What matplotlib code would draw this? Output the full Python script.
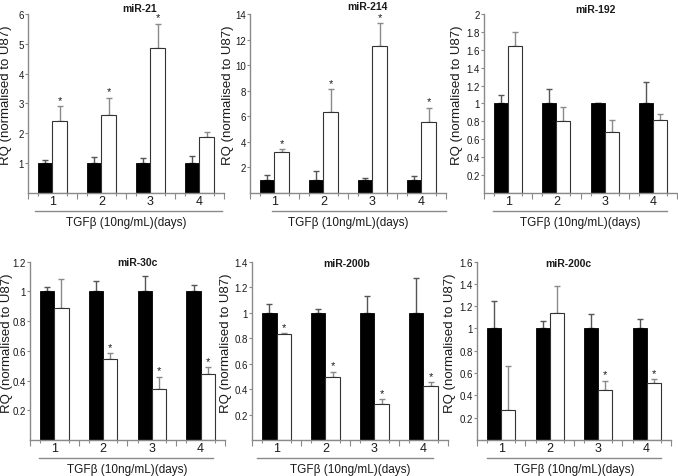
import matplotlib
matplotlib.use('Agg')
import matplotlib.pyplot as plt
import numpy as np

plt.rcParams['font.family'] = ['Liberation Sans', 'DejaVu Sans']

panel_titles = ['miR-21', 'miR-214', 'miR-192', 'miR-30c', 'miR-200b', 'miR-200c']
days = ['1', '2', '3', '4']
xlabel_text = 'TGFβ (10ng/mL)(days)'
ylabel_text = 'RQ (normalised to U87)'

ctrl_vals = [
    [1, 1, 1, 1],
    [1, 1, 1, 1],
    [1, 1, 1, 1],
    [1, 1, 1, 1],
    [1, 1, 1, 1],
    [1, 1, 1, 1],
]
ctrl_err = [
    [0.1, 0.2, 0.17, 0.25],
    [0.4, 0.7, 0.2, 0.35],
    [0.09, 0.16, 0.01, 0.24],
    [0.03, 0.07, 0.1, 0.04],
    [0.066, 0.03, 0.13, 0.27],
    [0.25, 0.07, 0.13, 0.085],
]
tgf_vals = [
    [2.4, 2.6, 4.87, 1.87],
    [3.19, 6.3, 11.48, 5.57],
    [1.64, 0.80, 0.685, 0.82],
    [0.89, 0.545, 0.344, 0.447],
    [0.83, 0.496, 0.28, 0.425],
    [0.27, 1.14, 0.45, 0.515],
]
tgf_err = [
    [0.5, 0.6, 0.81, 0.18],
    [0.25, 1.8, 1.8, 1.1],
    [0.16, 0.16, 0.125, 0.06],
    [0.19, 0.04, 0.08, 0.043],
    [0.006, 0.04, 0.04, 0.03],
    [0.395, 0.24, 0.08, 0.03],
]
signif = [
    [1, 1, 1, 0],
    [1, 1, 1, 1],
    [0, 0, 0, 0],
    [0, 1, 1, 1],
    [1, 1, 1, 1],
    [0, 0, 1, 1],
]
y_max = [6, 14, 2, 1.2, 1.4, 1.6]
y_step = [1, 2, 0.2, 0.2, 0.2, 0.2]

# layout (figure fractions)
axes_rects = [
    [0.0413, 0.5933, 0.289, 0.3753],
    [0.3687, 0.5933, 0.289, 0.3753],
    [0.7139, 0.5933, 0.2847, 0.3753],
    [0.0443, 0.0755, 0.2875, 0.374],
    [0.3717, 0.0755, 0.289, 0.374],
    [0.7035, 0.0755, 0.286, 0.374],
]
underlines = [(0.036, 0.99), (0.11, 1.0), (0.047, 0.95),
              (0.045, 0.94), (0.026, 0.926), (0.05, 0.95)]
title_x = [0.57, 0.6, 0.575, 0.55, 0.485, 0.47]
title_y = [1.035, 1.045, 1.03, 1.0, 0.99, 0.99]
ylabel_x = [-0.112, -0.112, -0.14, -0.12, -0.135, -0.14]

GRAY = '#8a8a8a'
TXT = '#1a1a1a'

fig = plt.figure(figsize=(6.78, 4.77), dpi=100)

for k in range(6):
    ax = fig.add_axes(axes_rects[k])
    x = np.arange(1, 5)
    w = 0.29
    ax.bar(x - w / 2, ctrl_vals[k], w, color='black', edgecolor='black',
           linewidth=0.6, zorder=2)
    ax.bar(x + w / 2, tgf_vals[k], w, color='white', edgecolor='#333333',
           linewidth=0.8, zorder=2)
    ax.errorbar(x - w / 2, ctrl_vals[k], yerr=[np.zeros(4), ctrl_err[k]],
                fmt='none', ecolor='#555555', elinewidth=1.0, capsize=2,
                capthick=1.0, zorder=1)
    ax.errorbar(x + w / 2, tgf_vals[k], yerr=[np.zeros(4), tgf_err[k]],
                fmt='none', ecolor=GRAY, elinewidth=1.0, capsize=2,
                capthick=1.0, zorder=1)
    for i in range(4):
        if signif[k][i]:
            top = tgf_vals[k][i] + tgf_err[k][i]
            ax.annotate('*', (x[i] + w / 2, top), xytext=(0, 1),
                        textcoords='offset points', ha='center', va='bottom',
                        fontsize=8, color=TXT)

    ax.set_xlim(0.5, 4.5)
    ax.set_ylim(0, y_max[k])
    ticks = np.arange(y_step[k], y_max[k] + y_step[k] / 2, y_step[k])
    ax.set_yticks(ticks)
    ax.set_yticklabels(['%g' % round(t, 2) for t in ticks])

    ax.set_xticks([0.5, 1.5, 2.5, 3.5, 4.5])
    ax.set_xticklabels([])
    ax.set_xticks(np.concatenate([x - w, x + w]), minor=True)
    ax.tick_params(axis='x', which='major', length=4, color=GRAY, width=0.8)
    ax.tick_params(axis='x', which='minor', length=2, color=GRAY, width=0.8)
    ax.tick_params(axis='y', length=2.5, color=GRAY, width=0.8, pad=0.5,
                   labelsize=7, labelcolor=TXT)
    for i, d in enumerate(days):
        ax.text(x[i], -0.045, d, transform=ax.get_xaxis_transform(),
                ha='center', va='center', fontsize=9, color=TXT)

    for s in ['top', 'right']:
        ax.spines[s].set_visible(False)
    for s in ['left', 'bottom']:
        ax.spines[s].set_color(GRAY)
        ax.spines[s].set_linewidth(1.0)

    x0, x1 = underlines[k]
    ax.plot([x0, x1], [-0.1, -0.1], transform=ax.transAxes, color=GRAY,
            linewidth=1.0, clip_on=False)
    ax.text(0.5, -0.16, xlabel_text, transform=ax.transAxes, ha='center',
            va='center', fontsize=8.5, color=TXT)
    ax.set_ylabel(ylabel_text, fontsize=9.5, color=TXT, va='center')
    ax.yaxis.set_label_coords(ylabel_x[k], 0.55)
    ax.text(title_x[k], title_y[k], panel_titles[k], transform=ax.transAxes,
            ha='center', va='center', fontsize=7.5, fontweight='bold',
            color=TXT)

fig.savefig('out.png', dpi=100)
